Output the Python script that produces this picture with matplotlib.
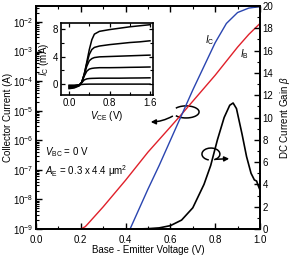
import numpy as np
import matplotlib
matplotlib.use('Agg')
import matplotlib.pyplot as plt
from matplotlib.patches import Arc
from matplotlib.ticker import MultipleLocator, LogLocator, NullFormatter

plt.rcParams['font.family'] = ['Liberation Sans', 'DejaVu Sans']
plt.rcParams['mathtext.fontset'] = 'custom'
plt.rcParams['mathtext.rm'] = 'Liberation Sans'
plt.rcParams['mathtext.it'] = 'Liberation Sans:italic'
plt.rcParams['font.size'] = 7

# Gummel plot: base-emitter voltage (V) vs log10 of current (A)
vbe_b = [0.20, 0.22, 0.23, 0.30, 0.40, 0.50, 0.60, 0.65, 0.70, 0.80, 0.90, 0.95, 1.00]
log_ib = [-9.0, -8.92, -8.84, -8.25, -7.35, -6.40, -5.55, -5.12, -4.68, -3.80, -2.85, -2.42, -2.05]
vbe_c = [0.42, 0.50, 0.55, 0.60, 0.65, 0.70, 0.75, 0.80, 0.85, 0.90, 0.95, 1.00]
log_ic = [-9.0, -7.65, -6.85, -6.00, -5.15, -4.30, -3.50, -2.70, -2.05, -1.68, -1.53, -1.48]

# DC current gain beta
vbe_beta = [0.45, 0.50, 0.55, 0.60, 0.65, 0.70, 0.75, 0.78, 0.81, 0.84, 0.865, 0.88,
            0.895, 0.92, 0.94, 0.96, 0.975, 0.985, 0.99, 1.00]
beta = [0.0, 0.03, 0.1, 0.3, 0.8, 1.9, 4.0, 5.7, 8.0, 10.0, 11.1, 11.3,
        10.8, 8.5, 6.5, 5.0, 4.4, 4.3, 4.0, 3.5]

# inset: output characteristics Ic (mA) vs Vce (V)
vce = [0.0, 0.1, 0.2, 0.25, 0.3, 0.35, 0.4, 0.45, 0.5, 0.6, 0.8, 1.0, 1.2, 1.4, 1.6]
ic_curves = [
    [-0.6, -0.5, -0.2, 0.3, 1.5, 3.2, 5.0, 6.4, 7.2, 7.6, 7.85, 8.05, 8.25, 8.4, 8.55],
    [-0.5, -0.4, -0.15, 0.3, 1.5, 3.0, 4.3, 5.0, 5.3, 5.5, 5.7, 5.85, 6.0, 6.1, 6.25],
    [-0.4, -0.3, -0.1, 0.3, 1.4, 2.6, 3.4, 3.7, 3.85, 3.95, 4.0, 4.05, 4.1, 4.15, 4.2],
    [-0.3, -0.25, -0.1, 0.3, 1.2, 1.9, 2.2, 2.3, 2.35, 2.4, 2.4, 2.42, 2.45, 2.47, 2.5],
    [-0.2, -0.2, -0.05, 0.25, 0.65, 0.8, 0.85, 0.87, 0.88, 0.9, 0.9, 0.9, 0.92, 0.93, 0.95],
    [-0.1, -0.1, -0.05, 0.0, 0.03, 0.04, 0.05, 0.05, 0.05, 0.05, 0.05, 0.05, 0.05, 0.05, 0.05],
]

red = '#e0202a'
blue = '#2a45b0'

fig = plt.figure(figsize=(2.94, 2.58), dpi=100)
ax = fig.add_axes([0.1224, 0.1124, 0.7619, 0.8643])
ax2 = ax.twinx()

ax.plot(vbe_b, 10.0 ** np.array(log_ib), color=red, lw=1.0)
ax.plot(vbe_c, 10.0 ** np.array(log_ic), color=blue, lw=1.0)
ax2.plot(vbe_beta, beta, color='black', lw=1.2)

ax.set_yscale('log')
ax.set_xlim(0, 1.0)
ax.set_ylim(1e-9, 10 ** -1.46)
ax2.set_ylim(0, 20)

ax.xaxis.set_major_locator(MultipleLocator(0.2))
ax.xaxis.set_minor_locator(MultipleLocator(0.1))
ax.xaxis.set_major_formatter(plt.FuncFormatter(lambda v, p: '%.1f' % v))
ax.yaxis.set_major_locator(LogLocator(base=10, numticks=20))
ax.yaxis.set_minor_locator(LogLocator(base=10, subs=np.arange(2, 10), numticks=20))
ax.yaxis.set_minor_formatter(NullFormatter())
ax2.yaxis.set_major_locator(MultipleLocator(2))
ax2.yaxis.set_minor_locator(MultipleLocator(1))

ax.tick_params(which='both', direction='in', top=True, labelsize=7, pad=2)
ax.tick_params(axis='x', pad=4)
ax.tick_params(which='major', length=4, width=1)
ax.tick_params(which='minor', length=2, width=0.8)
ax2.tick_params(which='both', direction='in', labelsize=7, pad=2)
ax2.tick_params(which='major', length=4, width=1)
ax2.tick_params(which='minor', length=2, width=0.8)
for a in (ax, ax2):
    for s in a.spines.values():
        s.set_linewidth(1.3)

ax.set_xlabel('Base - Emitter Voltage (V)', fontsize=7, labelpad=0)
ax.set_ylabel('Collector Current (A)', fontsize=7, labelpad=0)
ax2.set_ylabel(r'DC Current Gain $\beta$', fontsize=7, labelpad=3)

ax.text(0.755, 0.835, r'$I_{\rm C}$', transform=ax.transAxes, fontsize=7)
ax.text(0.91, 0.77, r'$I_{\rm B}$', transform=ax.transAxes, fontsize=7)
ax.text(0.04, 0.33, r'$V_{\rm BC}$ = 0 V', transform=ax.transAxes, fontsize=7)
ax.text(0.04, 0.24, r'$A_{\rm E}$ = 0.3 x 4.4 μm$^2$', transform=ax.transAxes, fontsize=7)

# curl arrows pointing to the relevant axis
ax.add_patch(Arc((0.67, 0.525), 0.116, 0.054, theta1=200, theta2=520,
                 transform=ax.transAxes, color='black', lw=1.1))
ax.annotate('', xy=(0.50, 0.48), xytext=(0.62, 0.512), xycoords='axes fraction',
            arrowprops=dict(arrowstyle='-|>', color='black', lw=1.1,
                            mutation_scale=7, connectionstyle='arc3,rad=-0.15'))
ax.add_patch(Arc((0.781, 0.336), 0.08, 0.054, theta1=300, theta2=610,
                 transform=ax.transAxes, color='black', lw=1.1))
ax.annotate('', xy=(0.875, 0.316), xytext=(0.79, 0.312), xycoords='axes fraction',
            arrowprops=dict(arrowstyle='-|>', color='black', lw=1.1, mutation_scale=7))

# inset
ins = fig.add_axes([0.2075, 0.632, 0.313, 0.279])
for ic in ic_curves:
    ins.plot(vce, ic, color='black', lw=1.1)
ins.set_xlim(-0.16, 1.66)
ins.set_ylim(-1.5, 8.8)
ins.xaxis.set_major_locator(MultipleLocator(0.8))
ins.xaxis.set_minor_locator(MultipleLocator(0.4))
ins.yaxis.set_major_locator(MultipleLocator(4))
ins.yaxis.set_minor_locator(MultipleLocator(2))
ins.xaxis.set_major_formatter(plt.FuncFormatter(lambda v, p: '%.1f' % v))
ins.tick_params(which='both', direction='in', top=True, right=True, labelsize=7, pad=2)
ins.tick_params(which='major', length=3, width=0.9)
ins.tick_params(which='minor', length=2, width=0.8)
for s in ins.spines.values():
    s.set_linewidth(1.2)
ins.set_xlabel(r'$V_{\rm CE}$ (V)', fontsize=7, labelpad=1)
ins.set_ylabel(r'$I_{\rm C}$ (mA)', fontsize=7, labelpad=1)

fig.savefig('out.png', dpi=100)
